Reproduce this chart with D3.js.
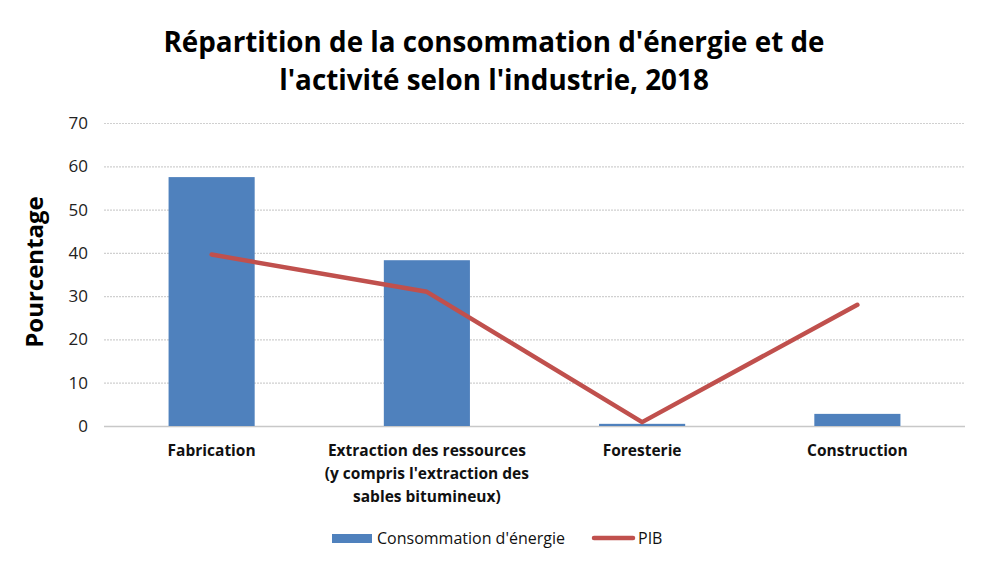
<!DOCTYPE html>
<html><head><meta charset="utf-8">
<script src="https://cdn.jsdelivr.net/npm/d3@7"></script>
<style>body{margin:0;background:#fff;}svg{display:block;}</style>
</head><body>
<script>
const categories = [["Fabrication"], ["Extraction des ressources","(y compris l'extraction des","sables bitumineux)"], ["Foresterie"], ["Construction"]];
const energie = [57.5, 38.3, 0.5, 2.8];
const pib = [39.6, 31.0, 0.9, 28.0];
const yTicks = [0,10,20,30,40,50,60,70];
const titleLines = ["Répartition de la consommation d'énergie et de", "l'activité selon l'industrie, 2018"];
const seriesNames = ["Consommation d'énergie", "PIB"];

const W=987,H=569;
const font = "'Open Sans', 'Liberation Sans', sans-serif";
const svg=d3.select("body").append("svg").attr("width",W).attr("height",H).style("font-family",font);
const m={l:104,r:22,t:123,b:143};
const x=d3.scaleBand().domain(d3.range(categories.length)).range([m.l,W-m.r]).paddingInner(0.6).paddingOuter(0.3);
const y=d3.scaleLinear().domain([0,70]).range([426,123]);

// title
svg.append("g").selectAll("text").data(titleLines).join("text")
 .attr("x",494).attr("y",(d,i)=>52+i*38).attr("text-anchor","middle")
 .attr("font-size",27.8).attr("font-weight","bold").attr("fill","#000").text(d=>d);

// grid
svg.append("g").selectAll("line").data(yTicks).join("line")
 .attr("x1",m.l).attr("x2",W-m.r).attr("y1",d=>y(d)+0.5).attr("y2",d=>y(d)+0.5)
 .attr("stroke",d=>d===0?"#c8c8c8":"#d0d0d0").attr("stroke-width",d=>d===0?1.5:1.2)
 .attr("stroke-dasharray",d=>d===0?null:"2,1");

// y axis labels
svg.append("g").selectAll("text").data(yTicks).join("text")
 .attr("x",88).attr("y",d=>y(d)+6).attr("text-anchor","end").attr("font-size",17).attr("fill","#222").text(d=>d);

svg.append("text").attr("transform","translate(43,272) rotate(-90)").attr("text-anchor","middle")
 .attr("font-size",24).attr("font-weight","bold").text("Pourcentage");

// bars
svg.append("g").selectAll("rect").data(energie).join("rect")
 .attr("x",(d,i)=>x(i)).attr("width",x.bandwidth()).attr("y",d=>y(d)).attr("height",d=>y(0)-y(d)).attr("fill","#4f81bd");

// line
const cx=i=>x(i)+x.bandwidth()/2;
svg.append("path").datum(pib).attr("fill","none").attr("stroke","#c0504d").attr("stroke-width",4.5)
 .attr("stroke-linecap","round").attr("stroke-linejoin","round")
 .attr("d",d3.line().x((d,i)=>cx(i)).y(d=>y(d)));

// x labels
const xl=svg.append("g");
categories.forEach((lines,i)=>{
  const t=xl.append("text").attr("text-anchor","middle").attr("font-size",15.5).attr("font-weight","bold").attr("fill","#111");
  lines.forEach((l,j)=>t.append("tspan").attr("x",cx(i)).attr("y",456+j*23).text(l));
});

// legend
const lg=svg.append("g");
lg.append("rect").attr("x",332).attr("y",534).attr("width",40).attr("height",9).attr("fill","#4f81bd");
lg.append("text").attr("x",377).attr("y",544).attr("font-size",16).attr("fill","#111").text(seriesNames[0]);
lg.append("line").attr("x1",594).attr("x2",633).attr("y1",538).attr("y2",538).attr("stroke","#c0504d").attr("stroke-width",4.5).attr("stroke-linecap","round");
lg.append("text").attr("x",638).attr("y",544).attr("font-size",16).attr("fill","#111").text(seriesNames[1]);
</script>
</body></html>
